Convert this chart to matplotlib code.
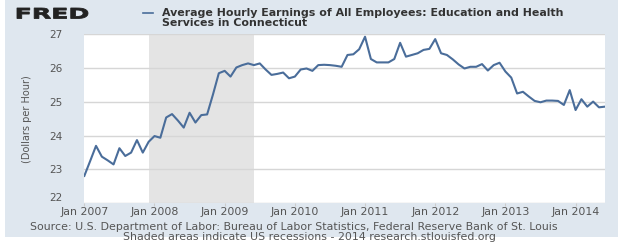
import numpy as np
import matplotlib.pyplot as plt
from matplotlib.patches import Rectangle, PathPatch
from matplotlib.textpath import TextPath
from matplotlib.font_manager import FontProperties
from matplotlib.transforms import Affine2D

# monthly values, Jan 2007 .. Jun 2014 (dollars per hour)
earnings = [
    22.81, 23.25, 23.70, 23.38, 23.27, 23.15, 23.63, 23.40, 23.50, 23.87, 23.50, 23.82,   # 2007
    23.99, 23.94, 24.54, 24.64, 24.45, 24.24, 24.68, 24.39, 24.61, 24.63, 25.22, 25.85,   # 2008
    25.92, 25.75, 26.02, 26.09, 26.14, 26.09, 26.14, 25.96, 25.80, 25.83, 25.87, 25.70,   # 2009
    25.75, 25.96, 25.99, 25.92, 26.09, 26.10, 26.09, 26.07, 26.04, 26.39, 26.41, 26.56,   # 2010
    26.93, 26.27, 26.17, 26.17, 26.17, 26.27, 26.75, 26.34, 26.39, 26.44, 26.54, 26.57,   # 2011
    26.86, 26.44, 26.39, 26.26, 26.11, 25.99, 26.04, 26.04, 26.12, 25.93, 26.09, 26.16,   # 2012
    25.90, 25.72, 25.25, 25.30, 25.16, 25.03, 24.99, 25.04, 25.04, 25.03, 24.91, 25.35,   # 2013
    24.76, 25.08, 24.86, 25.01, 24.84, 24.86,                                             # 2014
]
years = [2007, 2008, 2009, 2010, 2011, 2012, 2013, 2014]
recession = (11, 29)   # Dec 2007 .. Jun 2009, months since Jan 2007

months = np.arange(len(earnings))
bg = '#dfe7ef'
txt = '#555555'

fig = plt.figure(figsize=(6.32, 2.42), dpi=100, facecolor='white')
fig.patches.append(Rectangle((0.008, 0.02), 0.97, 0.98, transform=fig.transFigure,
                             facecolor=bg, edgecolor='none', zorder=-10))

ax = fig.add_axes([0.1334, 0.160, 0.957 - 0.1334, 0.698])
ax.set_facecolor('white')
ax.axvspan(recession[0], recession[1], color='#e4e4e4', lw=0, zorder=0)
ax.plot(months, earnings, color='#4a6d9a', lw=1.5, zorder=3)

ax.set_xlim(0, len(earnings) - 1)
ax.set_ylim(22, 27)
ax.set_yticks(range(22, 28))
ax.set_xticks([12 * (y - 2007) for y in years])
ax.set_xticklabels(['Jan %d' % y for y in years])
ax.grid(axis='y', color='#d6d6d6', lw=1)
ax.set_axisbelow(True)
for s in ax.spines.values():
    s.set_visible(False)
ax.tick_params(axis='y', length=0, pad=25.5, labelsize=7.6, labelcolor=txt)
ax.tick_params(axis='x', length=2, color='#cccccc', pad=0.5, labelsize=7.9, labelcolor=txt)
for lab in ax.get_yticklabels():
    lab.set_horizontalalignment('left')
ax.get_yticklabels()[0].set_verticalalignment('bottom')
ax.set_ylabel('(Dollars per Hour)', fontsize=7, color=txt, fontfamily='Liberation Sans Narrow')
ax.yaxis.set_label_coords(-0.1, 0.5)

# header: stretched FRED wordmark
tp = TextPath((0, 0), 'FRED', size=1, prop=FontProperties(family='DejaVu Sans', weight='bold'))
ext = tp.get_extents()
sx = 71 / ext.width
sy = 10.5 / ext.height
logo = Affine2D().translate(-ext.x0, -ext.y0).scale(sx, sy).translate(17, 242 - 18.5)
fig.patches.append(PathPatch(tp, transform=logo, facecolor='#222222', edgecolor='#222222', lw=0.6))

fig.add_artist(plt.Line2D([0.226, 0.242], [0.945, 0.945], color='#4a6d9a', lw=1.2))
fig.text(0.256, 0.945, 'Average Hourly Earnings of All Employees: Education and Health',
         fontsize=7.9, fontweight='bold', color='#333333', va='center')
fig.text(0.256, 0.905, 'Services in Connecticut',
         fontsize=7.9, fontweight='bold', color='#333333', va='center')

# footer
fig.text(0.465, 0.064, 'Source: U.S. Department of Labor: Bureau of Labor Statistics, Federal Reserve Bank of St. Louis',
         fontsize=7.9, color=txt, ha='center', va='center')
fig.text(0.49, 0.022, 'Shaded areas indicate US recessions - 2014 research.stlouisfed.org',
         fontsize=7.9, color=txt, ha='center', va='center')

fig.savefig('out.png', dpi=100, facecolor='white')
